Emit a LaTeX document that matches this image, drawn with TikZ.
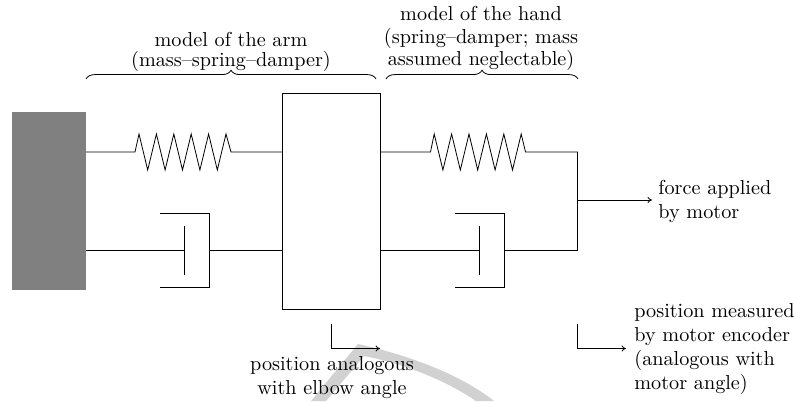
\documentclass[tikz,border=0pt]{standalone}
\usetikzlibrary{decorations.pathreplacing,arrows.meta}
\begin{document}
\begin{tikzpicture}[x=0.5pt,y=-0.5pt,
  wire/.style={line width=0.4pt,line join=miter},
  brc/.style={line width=0.4pt,decorate,decoration={brace,amplitude=4.4pt,aspect=0.5}},
  arr/.style={line width=0.4pt,-{To[length=2.2pt,width=3pt]}},
  lbl/.style={inner sep=0pt,align=left,font=\fontsize{10.1}{12}\selectfont},
  lblc/.style={inner sep=0pt,align=center,font=\fontsize{10.1}{12}\selectfont}]
\useasboundingbox (0,0) rectangle (795,401);
% faint watermark arc
\fill[black!18] (311,401) -- (358,344) .. controls (395,352) and (455,370) .. (494,401) -- (476,401) .. controls (445,380) and (405,364) .. (364,356) -- (326,401) -- cycle;
% bodies
\node[fill=black!50,minimum width=37pt,minimum height=89pt,inner sep=0pt,anchor=north west] (wall) at (12,112) {};
\node[draw,line width=0.4pt,minimum width=49pt,minimum height=108pt,inner sep=0pt,anchor=north west] (mass) at (282.2,93) {};
% junction points
\coordinate (wallS) at (86,152); \coordinate (wallD) at (86,250.5);
\coordinate (massLS) at (282.5,152); \coordinate (massLD) at (282.5,250.5);
\coordinate (massRS) at (380.5,152); \coordinate (massRD) at (380.5,250.5);
\coordinate (j1) at (577.5,152); \coordinate (j2) at (577.5,250.5); \coordinate (jf) at (577.5,200);
% left spring
\coordinate (s1a) at (135,152); \coordinate (s1b) at (231,152);
\draw[wire] (wallS) -- (s1a) -- ++(4,-18) -- ++(8.7,36) -- ++(8.7,-36) -- ++(8.7,36) -- ++(8.7,-36) -- ++(8.7,36) -- ++(8.7,-36) -- ++(8.7,36) -- ++(8.7,-36) -- ++(8.7,36) -- ++(8.7,-36) -- (s1b) -- (massLS);
% left damper
\coordinate (p1t) at (184,226); \coordinate (p1b) at (184,275); \coordinate (p1m) at (184,250.5);
\coordinate (c1m) at (209,250.5);
\draw[wire] (wallD) -- (p1m);
\draw[wire] (p1t) -- (p1b);
\draw[wire] (160,213.5) -- (209,213.5) -- (209,287.5) -- (160,287.5);
\draw[wire] (c1m) -- (massLD);
% right spring
\coordinate (s2a) at (430.5,152); \coordinate (s2b) at (525.5,152);
\draw[wire] (massRS) -- (s2a) -- ++(3.7,-18) -- ++(8.7,36) -- ++(8.7,-36) -- ++(8.7,36) -- ++(8.7,-36) -- ++(8.7,36) -- ++(8.7,-36) -- ++(8.7,36) -- ++(8.7,-36) -- ++(8.7,36) -- ++(8.7,-36) -- (s2b) -- (j1) -- (j2);
% right damper
\coordinate (p2t) at (479,226); \coordinate (p2b) at (479,275); \coordinate (p2m) at (479,250.5);
\coordinate (c2m) at (504,250.5);
\draw[wire] (massRD) -- (p2m);
\draw[wire] (p2t) -- (p2b);
\draw[wire] (455,213.5) -- (504,213.5) -- (504,287.5) -- (455,287.5);
\draw[wire] (c2m) -- (j2);
% labels
\node[lblc,font=\fontsize{10.1}{10.2}\selectfont,anchor=center] (arm) at (231,52) {model of the arm\\(mass--spring--damper)};
\node[lblc,font=\fontsize{10.1}{11.2}\selectfont,anchor=center] (hand) at (481,38.5) {model of the hand\\(spring--damper; mass\\assumed neglectable)};
\node[lbl,anchor=west] (force) at (658,201) {force applied\\by motor};
\node[lblc,anchor=center] (elbow) at (332,377.5) {position analogous\\with elbow angle};
\node[lbl,anchor=west] (enc) at (634,349) {position measured\\by motor encoder\\(analogous with\\motor angle)};
% braces
\coordinate (b1a) at (86,79); \coordinate (b1b) at (376,79);
\coordinate (b2a) at (386,79); \coordinate (b2b) at (578,79);
\draw[brc] (b1a) -- (b1b);
\draw[brc] (b2a) -- (b2b);
% arrows
\coordinate (f2) at (652,200);
\draw[arr] (jf) -- (f2);
\coordinate (e1) at (331.5,324); \coordinate (e2) at (331.5,348.5); \coordinate (e3) at (380,348.5);
\draw[arr] (e1) -- (e2) -- (e3);
\coordinate (m1) at (577.5,324); \coordinate (m2) at (577.5,348.5); \coordinate (m3) at (626,348.5);
\draw[arr] (m1) -- (m2) -- (m3);
\end{tikzpicture}
\end{document}
